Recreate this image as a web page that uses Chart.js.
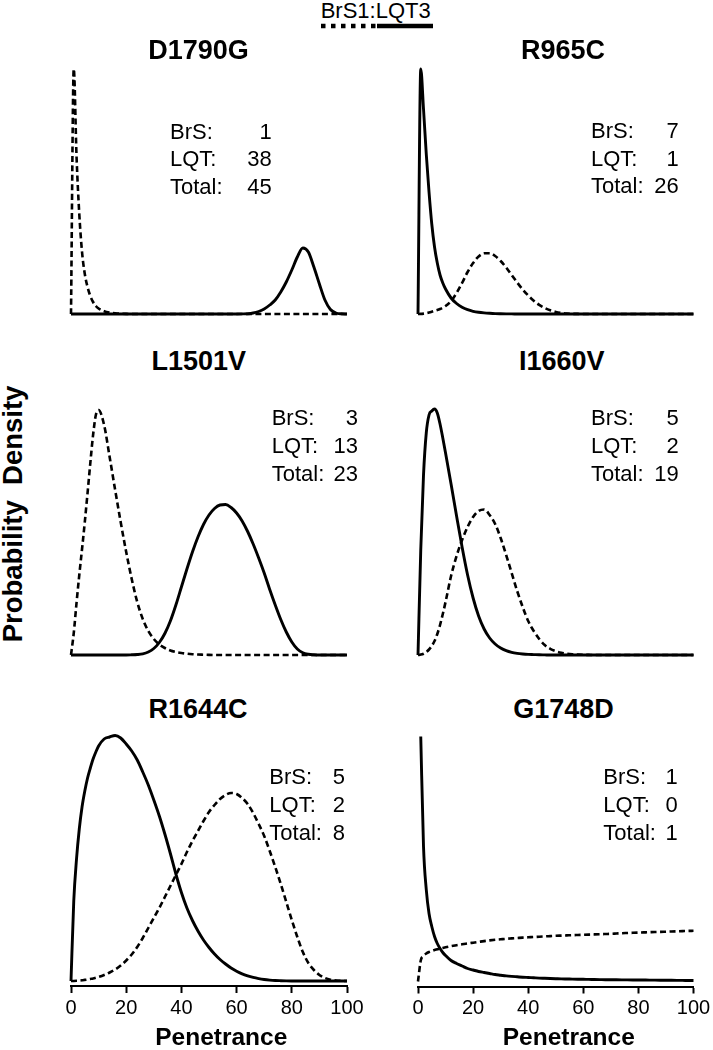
<!DOCTYPE html>
<html><head><meta charset="utf-8">
<script src="https://cdn.jsdelivr.net/npm/chart.js@4.4.1/dist/chart.umd.min.js"></script>
<style>
html,body{margin:0;padding:0;background:#fff;}
#wrap{position:relative;width:713px;height:1050px;overflow:hidden;font-family:"Liberation Sans",Arial,sans-serif;color:#000;background:#fff;}
#wrap canvas{position:absolute;}
.t{position:absolute;white-space:nowrap;}
</style></head>
<body><div id="wrap"></div>
<script>
// ---------- data ----------
const X = [0,1,2,3,4,5,6,7,8,9,10,12,14,16,18,20,22,24,26,28,30,32,34,36,38,40,42,44,46,48,50,52,54,56,58,60,62,64,66,68,70,72,74,76,78,80,82,84,86,88,90,92,94,96,98,100];
const xTicks = [0,20,40,60,80,100];
const titles = ['D1790G','R965C','L1501V','I1660V','R1644C','G1748D'];
const brsCounts = [1,7,3,5,5,1];
const lqtCounts = [38,1,13,2,2,0];
const totals = [45,26,23,19,8,1];

const d1790gBrS = [0,245,158,100,62,40,27,18,12,8,5.5, 2.8,1.4,0.7,0.3,0.1,0,0,0,0,0, 0,0,0,0,0,0,0,0,0,0, 0,0,0,0,0,0,0,0,0,0, 0,0,0,0,0,0,0,0,0,0, 0,0,0,0,0];
const d1790gLQT = [0,0,0,0,0,0,0,0,0,0,0, 0,0,0,0,0,0,0,0,0,0, 0,0,0,0,0,0,0,0,0,0, 0,0,0,0,0,0.1,0.3,1,2.5,5, 9,14,22,32,44,57,66,62,47,30, 14,4.5,1,0.2,0];
const r965cBrS = [0,0.1,0.4,0.9,1.5,2.3,3.2,4,5,6.3,8, 13,21,31,42,51,57.5,60.7,60.8,58,53, 46.5,39,31.5,24.5,18.5,13.3,9.2,6,3.7,2.1, 1.1,0.5,0.2,0.1,0,0,0,0,0,0, 0,0,0,0,0,0,0,0,0,0, 0,0,0,0,0];
const r965cLQT = [0,245,205,160,122,90,67,51,39,31,25, 16,10.5,6.8,4.3,2.7,1.7,1.1,0.7,0.4,0.25, 0.15,0.1,0.05,0,0,0,0,0,0,0, 0,0,0,0,0,0,0,0,0,0, 0,0,0,0,0,0,0,0,0,0, 0,0,0,0,0];
const l1501vBrS = [0,22,52,80,106,133,162,192,220,240,245, 230,198,165,133,103,76,53,36,24,16, 10.5,7,4.5,3,2,1.3,0.8,0.5,0.3,0.1, 0,0,0,0,0,0,0,0,0,0, 0,0,0,0,0,0,0,0,0,0, 0,0,0,0,0];
const l1501vLQT = [0,0,0,0,0,0,0,0,0,0,0, 0,0,0,0,0,0.2,0.5,1.2,3,6.5, 12.5,21.5,34,50,68,86,103,118,130.5,140, 146.5,150,150.5,147.5,142,134,123.5,111,97,82, 65.5,50,35.5,23,13,6,2.2,0.7,0.2,0, 0,0,0,0,0];
const i1660vBrS = [0,0.4,1.3,3,5.5,9,14,21,30,41,53, 79,99,115,128,138,144,145.5,140,131,117, 100,82,64,48,34,24,16,10,6.2,3.8, 2.3,1.4,0.8,0.4,0.2,0.1,0,0,0,0, 0,0,0,0,0,0,0,0,0,0, 0,0,0,0,0];
const i1660vLQT = [0,105,180,222,240,244,246,242,231,217,202, 171,139,108,80,57,39,26,17,11,7, 4.3,2.6,1.6,1,0.6,0.4,0.2,0.1,0,0, 0,0,0,0,0,0,0,0,0,0, 0,0,0,0,0,0,0,0,0,0, 0,0,0,0,0];
const r1644cBrS = [0,0.05,0.2,0.4,0.7,1.1,1.5,2,2.5,3.2,4, 6,8.5,11.5,15.5,20.5,26.5,34,43,53,63, 73,84,95,106,117,129,140,150,160,169, 176,182,186,188,187,183,177,168,157,145, 130,114,97,79,61,44,29,18,11,6, 3,1.3,0.5,0.15,0];
const r1644cLQT = [0,80,122,152,174,190,203,213,222,229,235, 242,244,245.5,243,237,230,221,209,196,181, 165,147,127.5,107,88.5,73,60.5,50,41,33.5, 27,21.5,17,13,9.8,7.2,5.2,3.6,2.4,1.5, 0.9,0.5,0.3,0.15,0.05,0,0,0,0,0, 0,0,0,0,0];
const g1748dBrS = [0,21,25.5,28,29.5,30.5,31.5,32.2,33,33.6,34.2, 35.3,36.3,37.2,38,38.8,39.6,40.4,41.1,41.7,42.2, 42.7,43.1,43.5,43.9,44.2,44.5,44.8,45.1,45.4,45.7, 45.9,46.1,46.3,46.5,46.7,46.9,47.1,47.3,47.5,47.7, 48.0,48.3,48.5,48.7,48.9,49.1,49.3,49.5,49.6,49.8, 50.0,50.2,50.4,50.6,50.7];
const g1748dLQT = [null,245,135,92,68,55,45,38,33,29,26, 21,18,15.5,13,11.5,10,9,8,7,6.3, 5.6,5.1,4.7,4.3,4.0,3.7,3.4,3.2,3.0,2.8, 2.6,2.5,2.4,2.3,2.2,2.1,2.0,1.9,1.8,1.75, 1.7,1.65,1.6,1.55,1.5,1.45,1.4,1.35,1.3,1.25, 1.2,1.15,1.1,1.05,1.0];

const brsSeries = [d1790gBrS, r965cBrS, l1501vBrS, i1660vBrS, r1644cBrS, g1748dBrS];
const lqtSeries = [d1790gLQT, r965cLQT, l1501vLQT, i1660vLQT, r1644cLQT, g1748dLQT];

// ---------- layout (pixels) ----------
const FONT = '"Liberation Sans", Arial, sans-serif';
const panels = [
  {x0:71, x1:347, base:314},
  {x0:418, x1:693.5, base:314},
  {x0:71, x1:347, base:655},
  {x0:418, x1:693.5, base:655},
  {x0:71, x1:347, base:981},
  {x0:418, x1:693.5, base:981.5}
];
const titlePos = [[198.5,59.5],[563,59.5],[198.7,370.7],[561.8,370.7],[198,719],[563.5,719]];
const notePos = [[170,271.7,139.3],[591,678.7,138.5],[271.7,358,426],[591,678.7,426],[269.3,345,785],[603.3,677.7,785]];
const wrap = document.getElementById('wrap');

function txt(s, x, base, size, bold, align) {
  const d = document.createElement('div');
  d.className = 't';
  d.textContent = s;
  d.style.fontSize = size + 'px';
  d.style.lineHeight = size + 'px';
  d.style.top = (base - 0.8465 * size) + 'px';
  if (bold) d.style.fontWeight = 'bold';
  if (align === 'left') d.style.left = x + 'px';
  else if (align === 'right') d.style.right = (713 - x) + 'px';
  else { d.style.left = x + 'px'; d.style.transform = 'translateX(-50%)'; }
  wrap.appendChild(d);
  return d;
}

const YMAX = 245, YMIN = -5;
panels.forEach((p, i) => {
  const bottomRow = i >= 4;
  const padL = 25, padT = 10, padB = 5;
  const axisH = bottomRow ? 40 : 0;
  const areaW = p.x1 - p.x0;
  const cw = Math.ceil(areaW + padL + 25);
  const padR = cw - padL - areaW;
  const top = p.base - YMAX;
  const areaH = YMAX - YMIN;
  const ctop = Math.floor(top - padT);
  const padTop = top - ctop;
  const ch = Math.ceil(padTop + areaH + axisH + padB);
  const padBot = ch - padTop - areaH - axisH;
  const cv = document.createElement('canvas');
  cv.width = cw; cv.height = ch;
  cv.style.width = cw + 'px'; cv.style.height = ch + 'px';
  cv.style.left = (p.x0 - padL) + 'px';
  cv.style.top = ctop + 'px';
  wrap.appendChild(cv);
  const mk = arr => X.map((x, k) => ({x: x, y: arr[k]}));
  new Chart(cv, {
    type: 'line',
    data: {datasets: [
      {label: 'BrS1', data: mk(brsSeries[i]), borderColor: '#000', borderWidth: 2.6, borderDash: [6, 3.5], fill: false, clip: false},
      {label: 'LQT3', data: mk(lqtSeries[i]), borderColor: '#000', borderWidth: 2.9, fill: false, clip: false}
    ]},
    options: {
      responsive: false, animation: false, devicePixelRatio: 1,
      layout: {padding: {left: padL, right: padR, top: padTop, bottom: padBot}},
      plugins: {legend: {display: false}, tooltip: {enabled: false}, title: {display: false}},
      elements: {point: {radius: 0}, line: {cubicInterpolationMode: 'monotone', borderCapStyle: 'butt', borderJoinStyle: 'round'}},
      scales: {
        x: {
          type: 'linear', min: 0, max: 100, display: bottomRow,
          afterBuildTicks: s => { s.ticks = xTicks.map(v => ({value: v})); },
          afterFit: s => { s.height = axisH; },
          border: {display: true, color: '#000', width: 2},
          grid: {drawOnChartArea: false, drawTicks: true, tickLength: 7, tickWidth: 2, tickColor: '#000', color: '#000'},
          ticks: {color: '#000', font: {family: FONT, size: 20}, padding: 3, maxRotation: 0, autoSkip: false}
        },
        y: {display: false, min: YMIN, max: YMAX}
      }
    }
  });
  // title
  txt(titles[i], titlePos[i][0], titlePos[i][1], 27, true, 'center');
  // counts
  const [L, R, b0] = notePos[i];
  const lines = [['BrS:', brsCounts[i]], ['LQT:', lqtCounts[i]], ['Total:', totals[i]]];
  lines.forEach((ln, k) => {
    txt(ln[0], L, b0 + k * 27.7, 22, false, 'left');
    txt(String(ln[1]), R, b0 + k * 27.7, 22, false, 'right');
  });
  if (bottomRow) {
    txt('Penetrance', i === 4 ? 221.3 : 568.8, 1046, 24.5, true, 'center');
  }
});

// legend at top
txt('BrS1:LQT3', 320.7, 18.3, 22, false, 'left');
const svgNS = 'http://www.w3.org/2000/svg';
const svg = document.createElementNS(svgNS, 'svg');
svg.setAttribute('width', '713'); svg.setAttribute('height', '40');
svg.style.position = 'absolute'; svg.style.left = '0'; svg.style.top = '0';
const l1 = document.createElementNS(svgNS, 'line');
l1.setAttribute('x1', '321'); l1.setAttribute('x2', '376'); l1.setAttribute('y1', '26'); l1.setAttribute('y2', '26');
l1.setAttribute('stroke', '#000'); l1.setAttribute('stroke-width', '4.3'); l1.setAttribute('stroke-dasharray', '4.5 5.5');
const l2 = document.createElementNS(svgNS, 'line');
l2.setAttribute('x1', '377'); l2.setAttribute('x2', '433'); l2.setAttribute('y1', '26'); l2.setAttribute('y2', '26');
l2.setAttribute('stroke', '#000'); l2.setAttribute('stroke-width', '4.3');
svg.appendChild(l1); svg.appendChild(l2);
wrap.appendChild(svg);

// y-axis label
const yl = document.createElement('div');
yl.className = 't';
yl.textContent = 'Probability  Density';
yl.style.whiteSpace = 'pre';
yl.style.fontWeight = 'bold';
yl.style.fontSize = '27.5px';
yl.style.lineHeight = '27.5px';
yl.style.left = '12.5px';
yl.style.top = '514px';
yl.style.transform = 'translate(-50%,-50%) rotate(-90deg)';
wrap.appendChild(yl);
</script>
</body></html>
